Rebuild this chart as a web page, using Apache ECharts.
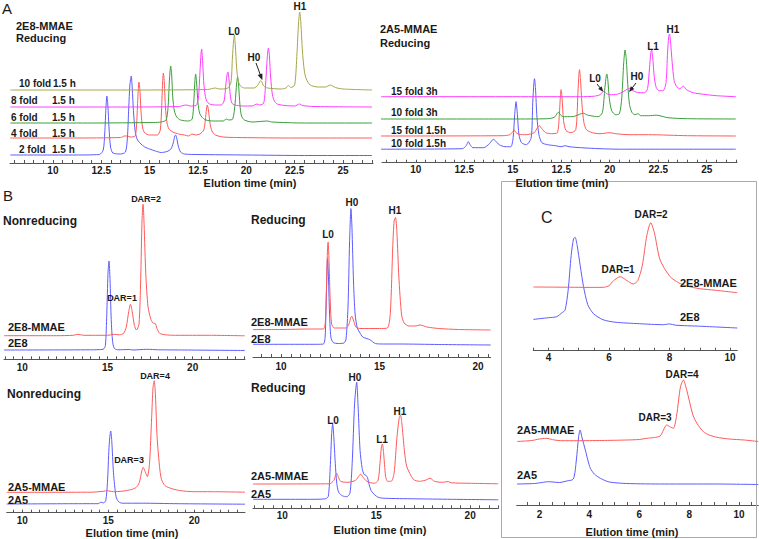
<!DOCTYPE html>
<html><head><meta charset="utf-8">
<script src="https://cdn.jsdelivr.net/npm/echarts@6/dist/echarts.min.js"></script>
<style>html,body{margin:0;padding:0;background:#fff}#c{width:759px;height:539px}</style>
</head><body><div id="c"></div>
<script>
// ---------- tick labels ----------
const ticksA = [10, 12.5, 15, 17.5, 20, 22.5, 25];
const tickLabelsA = ['10', '12.5', '15', '12.5', '20', '22.5', '25'];
const ticksB = [10, 15, 20];
const tickLabelsB = ['10', '15', '20'];
const ticksC1 = [4, 6, 8, 10];
const tickLabelsC1 = ['4', '6', '8', '10'];
const ticksC2 = [2, 4, 6, 8, 10];
const tickLabelsC2 = ['2', '4', '6', '8', '10'];

// ---------- Panel A left: 2E8-MMAE reducing (time, signal) ----------
const a1_2fold = [[7.8,8],[9,8],[11,8],[12.4,8.5],[12.6,13],[12.68,30],[12.74,55],[12.79,67],[12.84,58],[12.9,35],[12.98,16],[13.1,10],[13.5,9],[13.75,11],[13.85,25],[13.92,55],[13.98,78],[14.05,87],[14.1,75],[14.17,50],[14.25,32],[14.35,24],[14.5,20],[14.75,16],[15.0,14],[15.3,12],[15.6,10.5],[15.9,11.5],[16.1,14],[16.22,20],[16.3,27],[16.34,28],[16.4,25],[16.48,17],[16.6,11],[16.8,9],[17.5,8.5],[20,8],[23,7.5],[26.5,7.5]];
const a1_4fold = [[7.8,25],[11,25],[13.5,25.5],[13.7,27],[13.85,27],[14.0,26],[14.25,27],[14.33,40],[14.39,65],[14.45,81],[14.5,72],[14.56,50],[14.64,35],[14.75,30],[15,28],[15.4,28],[15.55,33],[15.62,55],[15.67,80],[15.71,90],[15.76,80],[15.82,55],[15.9,40],[16.0,34],[16.2,31],[16.5,29],[16.8,28],[17.0,27],[17.2,29],[17.4,28],[17.6,29],[17.8,33],[17.88,43],[17.94,54],[17.98,58],[18.04,53],[18.12,40],[18.22,32],[18.4,28],[18.8,26],[19.5,25.5],[22,25],[26.5,25]];
const a1_6fold = [[7.8,40],[12,40],[15.2,40.5],[15.6,41],[15.85,43],[15.95,55],[16.03,85],[16.09,97],[16.14,88],[16.2,65],[16.28,52],[16.4,46],[16.6,43],[17.0,42],[17.2,44],[17.28,60],[17.34,82],[17.38,89],[17.43,80],[17.5,60],[17.58,50],[17.7,46],[17.9,43],[18.3,42],[18.8,42],[18.97,44],[19.1,43],[19.3,44],[19.42,60],[19.5,80],[19.55,86],[19.6,78],[19.67,58],[19.75,47],[19.9,43],[20.3,41],[21.1,42],[21.3,41],[23,40],[26.5,40]];
const a1_8fold = [[7.8,56],[14,56],[16.5,56.5],[16.9,58],[17.1,57],[17.4,57.5],[17.52,65],[17.6,90],[17.66,110],[17.69,114],[17.73,105],[17.8,80],[17.87,68],[17.95,62],[18.1,59],[18.4,58],[18.7,58],[18.85,62],[18.95,80],[19.01,89],[19.05,91],[19.1,84],[19.17,68],[19.25,60],[19.4,58],[19.8,57],[20.3,57],[20.55,59],[20.7,58],[20.9,60],[21.0,80],[21.08,105],[21.14,115],[21.19,108],[21.26,85],[21.35,68],[21.45,62],[21.6,59],[22.0,57.5],[22.5,57],[22.75,59],[22.9,57.5],[23.5,56.5],[26.5,56]];
const a1_10fold = [[7.8,73],[14,73],[18.0,73.5],[18.4,75],[18.6,74],[19.0,74.5],[19.2,80],[19.28,105],[19.34,122],[19.38,128],[19.43,118],[19.5,95],[19.58,82],[19.7,77],[19.9,75],[20.4,75],[20.6,78],[20.68,81],[20.74,82.3],[20.8,81],[20.9,77],[21.1,75],[21.8,74],[22.05,75],[22.17,77.5],[22.3,75.5],[22.5,78],[22.62,110],[22.7,140],[22.76,151],[22.82,140],[22.9,112],[23.0,92],[23.1,84],[23.3,78],[23.7,76],[24.1,76],[24.34,78],[24.6,75.5],[25,74],[26.5,73]];

// ---------- Panel A right: 2A5-MMAE reducing ----------
const a2_10f15h = [[8.2,13.5],[12.4,14],[12.6,17],[12.71,21],[12.8,18],[12.95,15],[13.5,15],[13.8,19],[14.0,23.4],[14.1,22],[14.3,18],[14.6,16],[14.9,16],[15.02,25],[15.1,48],[15.17,61],[15.24,48],[15.32,28],[15.45,20],[15.7,18],[15.95,25],[16.03,60],[16.09,80],[16.12,84],[16.17,75],[16.25,45],[16.35,28],[16.5,20],[16.8,18],[17.2,17],[17.5,16],[17.7,17],[17.9,16],[18.5,15],[19.5,14],[20.5,13.5],[26.5,13.5]];
const a2_15f15h = [[8.2,26.7],[14.5,27],[14.85,28],[15.0,31],[15.07,33],[15.15,30.5],[15.3,28.5],[15.7,28],[16.1,30],[16.27,35],[16.37,37],[16.5,34],[16.7,30],[17.0,29],[17.3,30],[17.4,48],[17.46,68],[17.49,73],[17.54,65],[17.62,42],[17.75,32],[18.0,30],[18.25,33],[18.36,70],[18.41,88],[18.44,93],[18.49,84],[18.57,58],[18.67,40],[18.8,33],[19.1,30],[19.5,29],[20.0,30],[20.3,29],[21,28],[22,28],[24,27],[26.5,26.7]];
const a2_10f3h = [[8.2,43.7],[15,43.7],[16.8,44],[17.15,45.5],[17.28,49],[17.35,50.4],[17.45,48],[17.6,46],[17.9,46],[18.2,46.5],[18.45,48.5],[18.64,49.5],[18.8,48],[19.0,47],[19.4,46],[19.62,50],[19.75,75],[19.82,87],[19.85,88.7],[19.9,83],[19.98,64],[20.1,52],[20.3,48],[20.5,49],[20.62,65],[20.72,100],[20.79,112.7],[20.85,104],[20.93,78],[21.02,58],[21.15,50],[21.3,48],[21.45,49],[21.6,47],[22,47],[22.4,47.5],[23,45],[24,44],[26.5,43.7]];
const a2_15f3h = [[8.2,66],[18.5,66],[19.2,66.5],[19.5,68],[19.65,71],[19.71,71.7],[19.8,69.5],[20.0,68],[20.4,68.5],[20.7,71],[20.9,73.5],[21.01,74.4],[21.2,72],[21.5,70],[21.8,70],[21.95,74],[22.05,95],[22.12,110],[22.16,112.7],[22.21,106],[22.3,85],[22.4,75],[22.55,72],[22.75,72],[22.9,80],[22.98,110],[23.04,126],[23.08,128.7],[23.13,122],[23.22,100],[23.32,82],[23.45,76],[23.6,74],[23.8,76.5],[23.95,73],[24.3,70],[24.8,68.5],[25.5,67],[26.5,66]];

// ---------- Panel B ----------
const b1_mmae = [[8.93,23.6],[12,23.6],[13.0,24],[13.26,25],[13.6,24],[15.0,24],[15.4,25],[15.7,24.5],[15.95,26],[16.1,32],[16.25,48],[16.35,55],[16.45,48],[16.58,34],[16.7,29.3],[16.85,35],[16.95,80],[17.03,140],[17.09,155],[17.15,135],[17.25,85],[17.38,52.6],[17.55,40],[17.7,36],[17.79,36],[17.9,31],[18.06,26],[18.4,24.5],[19,24],[20,24],[21,24],[23.06,23.5]];
const b1_naked = [[8.93,9.3],[14,9.5],[14.75,10],[14.88,14],[14.96,45],[15.03,85],[15.09,98.3],[15.15,80],[15.22,40],[15.3,18],[15.4,11],[15.6,9.5],[16.3,9.8],[16.5,9.3],[17.3,10],[18,9.5],[19.5,9.3],[23.06,8.8]];
const b2_mmae = [[8.58,27.4],[10,27.5],[11.5,28],[12.15,28],[12.25,35],[12.32,80],[12.36,108],[12.39,115],[12.43,100],[12.5,55],[12.57,33],[12.7,29],[13.0,29],[13.3,29],[13.45,33],[13.55,40],[13.6,40.7],[13.67,37],[13.8,30],[14.0,28.5],[15.0,28.5],[15.4,29],[15.55,45],[15.67,110],[15.74,136],[15.81,139.4],[15.88,125],[15.98,80],[16.12,42],[16.25,34],[16.5,31],[16.8,31],[17.06,32],[17.4,30],[18,28.5],[19,27.5],[20.64,27]];
const b2_naked = [[8.58,12.7],[11.8,12.7],[12.15,13],[12.24,20],[12.3,60],[12.34,90],[12.36,98.4],[12.4,85],[12.46,45],[12.53,20],[12.65,14.5],[12.9,13.5],[13.2,14],[13.3,18],[13.4,50],[13.48,115],[13.55,148.4],[13.6,130],[13.68,75],[13.76,43],[13.87,29],[13.98,25],[14.15,20],[14.5,17.4],[14.8,13.4],[15.2,13],[16,13],[18,12.5],[20.64,12]];
const b3_mmae = [[9.09,20.4],[14,20.5],[14.75,21.5],[14.9,22],[15.1,21.5],[15.3,21],[15.8,21.5],[16.3,23],[16.6,25],[16.8,30],[16.95,42],[17.03,45.4],[17.12,42],[17.27,36],[17.4,50],[17.52,95],[17.6,125],[17.67,132],[17.74,118],[17.84,75],[18.0,42.6],[18.1,33],[18.3,27],[18.7,24],[19.2,22],[20,21],[21,21],[22.95,20.5]];
const b3_naked = [[9.09,8.7],[13.5,9],[14.4,9],[14.58,10.5],[14.72,9.8],[14.85,12],[14.95,30],[15.04,65],[15.1,78],[15.14,81.7],[15.2,72],[15.3,40],[15.45,16],[15.6,11],[15.8,9.5],[17,9.5],[19,9],[22.95,8.5]];
const b4_mmae = [[8.44,24.3],[12.5,24.5],[12.75,28],[12.85,34],[12.9,35],[12.97,32],[13.1,27],[13.5,26],[13.9,28],[14.1,33],[14.18,34],[14.3,31],[14.5,27],[14.9,25],[15.1,28],[15.2,45],[15.28,62],[15.33,64.3],[15.39,56],[15.5,32],[15.6,27],[15.8,27],[15.95,35],[16.1,70],[16.22,90],[16.29,93.3],[16.36,86],[16.5,58],[16.63,41.6],[16.98,29],[17.3,27],[17.6,28],[17.87,30],[18.1,27],[18.5,26],[18.84,26.7],[19.0,25.5],[20,25],[21.5,24.5]];
const b4_naked = [[8.44,9],[11.5,9],[12.3,9.5],[12.45,12],[12.55,40],[12.63,75],[12.68,84.3],[12.74,72],[12.82,45],[12.9,25],[13.0,16],[13.2,12.5],[13.43,11.6],[13.6,15],[13.72,45],[13.85,105],[13.96,126],[14.04,100],[14.14,58],[14.25,40],[14.35,34],[14.45,33],[14.53,31],[14.65,22],[14.76,16.7],[15.1,11],[15.5,10],[17,9.5],[19,9],[21.5,8.5]];

// ---------- Panel C ----------
const c1_mmae = [[3.5,63.7],[4.5,63.5],[5.5,63.3],[5.85,63.5],[6.0,65],[6.15,70],[6.37,74],[6.6,70],[6.8,66.7],[6.95,70],[7.1,85],[7.25,115],[7.38,128],[7.5,118],[7.69,90.7],[8.02,74],[8.3,68],[8.57,64.7],[9.0,62],[9.5,60.5],[10.24,58]];
const c1_naked = [[3.5,31.3],[4.0,33],[4.27,34],[4.45,38],[4.55,40.7],[4.65,60],[4.75,95],[4.83,112],[4.88,113.4],[4.95,105],[5.05,85],[5.16,64],[5.3,46],[5.49,37],[5.8,31],[6.2,28.5],[7,27],[7.8,26],[8.0,26.8],[8.2,25.5],[9,24.5],[10.24,22.7]];
const c2_mmae = [[1.1,63.5],[1.7,64.5],[2.0,66],[2.27,66.7],[2.6,65],[2.9,64.3],[3.5,64.3],[4.5,64.5],[5.5,65],[6.0,65.5],[6.3,66.7],[6.6,67.5],[6.84,69],[6.97,75],[7.1,80],[7.25,78],[7.37,76.7],[7.5,90],[7.65,118],[7.77,125],[7.87,118],[7.97,108],[8.15,90],[8.31,81.7],[8.57,73.3],[8.8,70],[9.11,67.7],[9.6,66],[10.2,65],[10.77,63.5]];
const c2_naked = [[1.1,21],[1.8,21.5],[2.1,22.5],[2.36,23.3],[2.8,22.5],[3.09,24],[3.36,26],[3.48,45],[3.57,68],[3.63,75],[3.7,68],[3.84,55],[3.94,45],[4.04,36.7],[4.2,31],[4.44,26.7],[4.8,23],[5.5,21.5],[7,21],[9,21],[10.77,20.5]];

// ---------- styles ----------
const BLUE = '#5c5cff', RED = '#ff5a5a', GREEN = '#3a9e3a', MAG = '#ff3dff', OLIVE = '#a6a64a';
const FONT = '"Liberation Sans", Arial, sans-serif';
const TXT = '#1a1a1a';

// grid layout: left, axisY (bottom), top, width, min, max, tick values, labels, margin
const panels = [
  {left:10,  width:363,   top:0,   bottom:163,   min:7.78, max:26.55, tv:ticksA,  tl:tickLabelsA,  m:2},
  {left:382, width:355,   top:0,   bottom:162.7, min:8.26, max:26.56, tv:ticksA,  tl:tickLabelsA,  m:2},
  {left:4,   width:241,   top:190, bottom:359.3, min:8.93, max:23.07, tv:ticksB,  tl:tickLabelsB,  m:3},
  {left:253, width:237.7, top:190, bottom:357,   min:8.58, max:20.64, tv:ticksB,  tl:tickLabelsB,  m:4},
  {left:6.7, width:238.3, top:370, bottom:512.7, min:9.09, max:22.95, tv:ticksB,  tl:tickLabelsB,  m:3},
  {left:253, width:245.3, top:370, bottom:508.3, min:8.44, max:21.5,  tv:ticksB,  tl:tickLabelsB,  m:2},
  {left:533.3,width:204,  top:190, bottom:350.7, min:3.5,  max:10.24, tv:ticksC1, tl:tickLabelsC1, m:2},
  {left:516.7,width:241.6,top:370, bottom:505,   min:1.09, max:10.77, tv:ticksC2, tl:tickLabelsC2, m:4}
];

function minorTicks(a, b, step) {
  const out = [];
  for (let v = Math.ceil(a / step) * step; v <= b + 1e-9; v += step) out.push(+v.toFixed(3));
  return out;
}

const grid = [], xAxis = [], yAxis = [];
panels.forEach((p, i) => {
  grid.push({left: p.left, top: p.top, width: p.width, height: p.bottom - p.top});
  xAxis.push({
    type: 'value', gridIndex: i, min: p.min, max: p.max,
    axisLine: {show: true, lineStyle: {color: '#555', width: 1}},
    axisTick: {show: true, inside: true, length: 3, lineStyle: {color: '#555'},
               customValues: minorTicks(p.min, p.max, 0.5)},
    axisLabel: {customValues: p.tv, margin: p.m, color: TXT, fontFamily: FONT, fontWeight: 'bold', fontSize: 10,
                formatter: (v) => { const k = p.tv.findIndex(t => Math.abs(t - v) < 1e-6); return k >= 0 ? p.tl[k] : ''; }},
    splitLine: {show: false}
  });
  yAxis.push({type: 'value', gridIndex: i, min: 0, max: p.bottom - p.top, show: false});
});

function trace(g, data, color, name) {
  return {type: 'line', name, xAxisIndex: g, yAxisIndex: g, data, showSymbol: false, symbol: 'none',
          smooth: 0.25, lineStyle: {color, width: 1}, itemStyle: {color}, silent: true, z: 2};
}

const series = [
  trace(0, a1_2fold, BLUE, '2 fold 1.5 h'),
  trace(0, a1_4fold, RED, '4 fold 1.5 h'),
  trace(0, a1_6fold, GREEN, '6 fold 1.5 h'),
  trace(0, a1_8fold, MAG, '8 fold 1.5 h'),
  trace(0, a1_10fold, OLIVE, '10 fold 1.5 h'),
  trace(1, a2_10f15h, BLUE, '10 fold 1.5h'),
  trace(1, a2_15f15h, RED, '15 fold 1.5h'),
  trace(1, a2_10f3h, GREEN, '10 fold 3h'),
  trace(1, a2_15f3h, MAG, '15 fold 3h'),
  trace(2, b1_naked, BLUE, '2E8'),
  trace(2, b1_mmae, RED, '2E8-MMAE'),
  trace(3, b2_naked, BLUE, '2E8'),
  trace(3, b2_mmae, RED, '2E8-MMAE'),
  trace(4, b3_naked, BLUE, '2A5'),
  trace(4, b3_mmae, RED, '2A5-MMAE'),
  trace(5, b4_naked, BLUE, '2A5'),
  trace(5, b4_mmae, RED, '2A5-MMAE'),
  trace(6, c1_naked, BLUE, '2E8'),
  trace(6, c1_mmae, RED, '2E8-MMAE'),
  trace(7, c2_naked, BLUE, '2A5'),
  trace(7, c2_mmae, RED, '2A5-MMAE')
];

// ---------- annotations ----------
function T(text, x, y, size, align, weight) {
  return {type: 'text', x, y, z: 10, silent: true,
          style: {text, fill: TXT, font: (weight || 'bold') + ' ' + size + 'px ' + FONT,
                  textAlign: align || 'left', textVerticalAlign: 'middle'}};
}
const texts = [
  T('A', 2, 8, 15, 'left', 'normal'),
  T('2E8-MMAE', 16, 26, 11), T('Reducing', 16, 38, 11),
  T('10 fold', 19, 83, 10), T('1.5 h', 53, 83, 10),
  T('8 fold', 11, 100, 10), T('1.5 h', 52, 100, 10),
  T('6 fold', 11, 117, 10), T('1.5 h', 52, 117, 10),
  T('4 fold', 11, 133, 10), T('1.5 h', 52, 133, 10),
  T('2 fold', 19, 149, 10), T('1.5 h', 52, 149, 10),
  T('L0', 234, 31, 10, 'center'), T('H0', 254, 57, 10, 'center'), T('H1', 300, 6, 10, 'center'),
  T('Elution time (min)', 250, 183, 11, 'center'),
  T('2A5-MMAE', 380, 29, 11), T('Reducing', 380, 43, 11),
  T('15 fold 3h', 391, 91, 10), T('10 fold 3h', 391, 112, 10),
  T('15 fold 1.5h', 391, 130, 10), T('10 fold 1.5h', 391, 143, 10),
  T('L0', 595, 78, 10, 'center'), T('H0', 637, 76, 10, 'center'),
  T('L1', 653, 46, 10, 'center'), T('H1', 673, 29, 10, 'center'),
  T('Elution time (min)', 562, 183, 11, 'center'),
  T('B', 3, 195, 15, 'left', 'normal'),
  T('Nonreducing', 3, 221, 12),
  T('2E8-MMAE', 8, 327, 11), T('2E8', 8, 343, 11),
  T('DAR=2', 146, 199, 9, 'center'), T('DAR=1', 122, 298, 9, 'center'),
  T('Reducing', 251, 220, 12),
  T('2E8-MMAE', 251, 322, 11), T('2E8', 251, 339, 11),
  T('L0', 328, 234, 10, 'center'), T('H0', 352, 202, 10, 'center'), T('H1', 395, 210, 10, 'center'),
  T('Nonreducing', 7, 394, 12),
  T('2A5-MMAE', 8, 487, 11), T('2A5', 8, 500, 11),
  T('DAR=4', 155, 376, 9, 'center'), T('DAR=3', 129, 460, 9, 'center'),
  T('Elution time (min)', 132, 533, 11, 'center'),
  T('Reducing', 251, 388, 12),
  T('2A5-MMAE', 251, 476, 11), T('2A5', 251, 494, 11),
  T('L0', 333, 420, 10, 'center'), T('H0', 355, 377, 10, 'center'),
  T('L1', 382, 439, 10, 'center'), T('H1', 400, 411, 10, 'center'),
  T('Elution time (min)', 380, 530, 11, 'center'),
  T('C', 541, 217, 16, 'left', 'normal'),
  T('DAR=1', 618, 269, 10, 'center'), T('DAR=2', 651, 214, 10, 'center'),
  T('2E8-MMAE', 680, 283, 11), T('2E8', 680, 317, 11),
  T('2A5-MMAE', 517, 430, 11), T('2A5', 517, 475, 11),
  T('DAR=3', 655, 417, 10, 'center'), T('DAR=4', 682, 374, 10, 'center'),
  T('Elution time (min)', 632, 532, 11, 'center')
];
function arrow(x1, y1, x2, y2, h1x, h1y, h2x, h2y) {
  return [
    {type: 'line', z: 10, silent: true, shape: {x1, y1, x2, y2}, style: {stroke: '#222', lineWidth: 1}},
    {type: 'polygon', z: 10, silent: true, shape: {points: [[x2 + (x2 - x1) * 0.15, y2 + (y2 - y1) * 0.15], [h1x, h1y], [h2x, h2y]]}, style: {fill: '#222'}}
  ];
}
const graphics = texts.concat(
  arrow(256, 63, 261.5, 78, 262.4, 73.5, 257.7, 75.1),
  arrow(597, 84, 602.5, 90.8, 601.6, 86.2, 598.2, 89.0),
  arrow(636, 83, 630, 90.8, 634.3, 88.9, 630.8, 86.2),
  [{type: 'rect', z: 1, silent: true, shape: {x: 501.5, y: 181.5, width: 255, height: 356},
    style: {fill: 'none', stroke: '#aaaaaa', lineWidth: 1}}]
);

const chart = echarts.init(document.getElementById('c'), null, {renderer: 'svg'});
chart.setOption({
  animation: false,
  backgroundColor: '#fff',
  grid, xAxis, yAxis, series,
  graphic: graphics
});
</script></body></html>
